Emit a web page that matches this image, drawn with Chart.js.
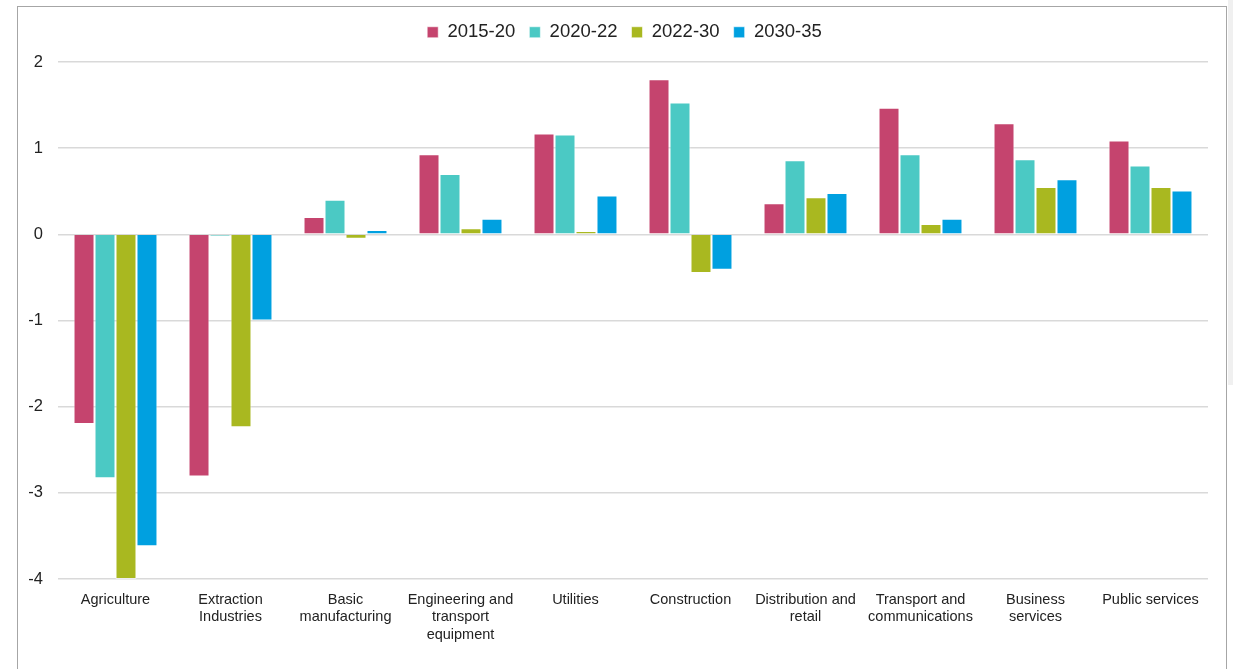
<!DOCTYPE html>
<html>
<head>
<meta charset="utf-8">
<script src="https://cdn.jsdelivr.net/npm/chart.js@4/dist/chart.umd.min.js"></script>
<style>
  body { margin: 0; background: #fff; overflow: hidden; }
  #wrap { position: absolute; left: 0; top: 0; width: 1233px; height: 669px; }
  #frame { position: absolute; left: 17px; top: 6px; width: 1208px; height: 700px; border: 1px solid #a6a6a6; pointer-events: none; }
  #strip { position: absolute; left: 1228px; top: 0; width: 5px; height: 385px; background: #f0f0f0; }
</style>
</head>
<body>
<div id="wrap">
  <canvas id="salesChart" width="1233" height="669"></canvas>
  <div id="frame"></div>
  <div id="strip"></div>
</div>
<script>
const categories = [
    'Agriculture',
    ['Extraction', 'Industries'],
    ['Basic', 'manufacturing'],
    ['Engineering and', 'transport', 'equipment'],
    'Utilities',
    'Construction',
    ['Distribution and', 'retail'],
    ['Transport and', 'communications'],
    ['Business', 'services'],
    'Public services'
];
const seriesNames = ['2015-20', '2020-22', '2022-30', '2030-35'];
const s2015 = [-2.2, -2.81, 0.2, 0.93, 1.17, 1.8, 0.36, 1.47, 1.29, 1.09];
const s2020 = [-2.83, -0.02, 0.4, 0.7, 1.16, 1.53, 0.86, 0.93, 0.87, 0.8];
const s2022 = [-4.0, -2.24, -0.05, 0.07, 0.04, -0.45, 0.43, 0.12, 0.55, 0.55];
const s2030 = [-3.62, -1.0, 0.05, 0.18, 0.45, -0.41, 0.48, 0.18, 0.64, 0.51];
const yTicks = [2, 1, 0, -1, -2, -3, -4];
const colors = ['#C5446E', '#4BC9C4', '#A9B820', '#00A0E0'];

const allSeries = [s2015, s2020, s2022, s2030];

// fixed legend height so the plot starts where the reference does,
// and nudge the legend row right to sit over the plot centre
const legendTweak = {
    id: 'legendTweak',
    afterInit(chart) {
        const lg = chart.legend;
        const fit = lg.fit;
        lg.fit = function () { fit.call(this); this.height = 53; };
    },
    afterLayout(chart) {
        chart.legend.left += 12;
        chart.legend.right += 12;
    }
};

const ctx = document.getElementById('salesChart').getContext('2d');
new Chart(ctx, {
    type: 'bar',
    data: {
        labels: categories,
        datasets: allSeries.map((vals, i) => ({
            label: seriesNames[i],
            data: vals,
            backgroundColor: colors[i],
            borderColor: 'rgba(255,255,255,0.55)',
            borderWidth: 1,
            barPercentage: 1,
            categoryPercentage: 0.73
        }))
    },
    options: {
        responsive: false,
        animation: false,
        layout: { padding: { top: 9, left: 17, right: 25, bottom: 0 } },
        scales: {
            x: {
                grid: { display: false, drawTicks: false },
                border: { display: false },
                ticks: {
                    color: '#222',
                    padding: 12,
                    maxRotation: 0,
                    autoSkip: false,
                    font: { family: 'Liberation Sans', size: 14.5 }
                },
                afterFit: (scale) => { scale.height = 90; }
            },
            y: {
                min: -4,
                max: 2,
                afterBuildTicks: (scale) => { scale.ticks = yTicks.map(v => ({ value: v })); },
                grid: { color: '#d9d9d9', lineWidth: 1.5, drawTicks: false },
                border: { display: false },
                ticks: {
                    color: '#222',
                    padding: 15,
                    font: { family: 'Liberation Sans', size: 16.5 }
                },
                afterFit: (scale) => { scale.width = 41; }
            }
        },
        plugins: {
            legend: {
                display: true,
                position: 'top',
                labels: {
                    boxWidth: 11,
                    boxHeight: 11,
                    padding: 14,
                    color: '#222',
                    font: { family: 'Liberation Sans', size: 18.5 }
                }
            },
            tooltip: { enabled: false }
        }
    },
    plugins: [legendTweak]
});
</script>
</body>
</html>
